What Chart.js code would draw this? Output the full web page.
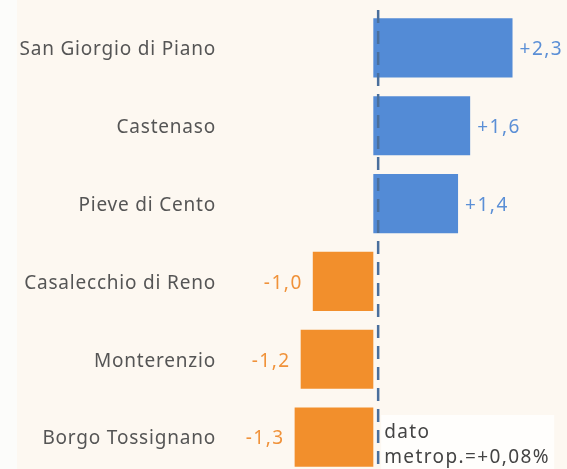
<!DOCTYPE html>
<html>
<head>
<meta charset="utf-8">
<script src="https://cdn.jsdelivr.net/npm/chart.js@4"></script>
<style>
  html, body { margin:0; padding:0; overflow:hidden; background:#fcfcfa; }
  .panel { position:absolute; left:17px; top:0; width:550px; height:469px; background:#fdf8f1; }
  .wrap { position:absolute; left:0; top:0; width:567px; height:478px; }
</style>
</head>
<body>
<div class="panel"></div>
<div class="wrap"><canvas id="chart"></canvas></div>
<script>
  const comuni = ['San Giorgio di Piano','Castenaso','Pieve di Cento','Casalecchio di Reno','Monterenzio','Borgo Tossignano'];
  const variazioni = [2.3, 1.6, 1.4, -1.0, -1.2, -1.3];
  const datoMetrop = 0.08;
  const notaMetrop = ['dato', 'metrop.=+0,08%'];

  const BLUE = '#538bd6', ORANGE = '#f28f2c';
  const FONT = '"Noto Sans", sans-serif';

  function fmt(v) {
    return (v > 0 ? '+' : '') + v.toFixed(1).replace('.', ',');
  }

  // category names, drawn by hand so the axis adds no extra padding
  const catLabels = {
    id: 'catLabels',
    afterDraw(chart) {
      const ctx = chart.ctx;
      const y = chart.scales.y;
      ctx.save();
      ctx.font = '19px ' + FONT;
      ctx.letterSpacing = '0.8px';
      ctx.fillStyle = '#555';
      ctx.textAlign = 'right';
      ctx.textBaseline = 'middle';
      comuni.forEach((c, i) => ctx.fillText(c, y.right - 6, y.getPixelForValue(i) + 2));
      ctx.restore();
    }
  };

  // labels next to each bar
  const valueLabels = {
    id: 'valueLabels',
    afterDatasetsDraw(chart) {
      const ctx = chart.ctx;
      const meta = chart.getDatasetMeta(0);
      ctx.save();
      ctx.font = '19px ' + FONT;
      ctx.letterSpacing = '1.5px';
      ctx.textBaseline = 'middle';
      meta.data.forEach((bar, i) => {
        const v = variazioni[i];
        if (v >= 0) {
          ctx.fillStyle = '#5b8fd6';
          ctx.textAlign = 'left';
          ctx.fillText(fmt(v), bar.x + 7, bar.y + 2);
        } else {
          ctx.fillStyle = '#f0923a';
          ctx.textAlign = 'right';
          ctx.fillText(fmt(v), bar.x - 10, bar.y + 2);
        }
      });
      ctx.restore();
    }
  };

  // dashed reference line + note box
  const refLine = {
    id: 'refLine',
    afterDraw(chart) {
      const ctx = chart.ctx;
      const x = chart.scales.x.getPixelForValue(datoMetrop);
      ctx.save();
      ctx.strokeStyle = '#4a6f9c';
      ctx.lineWidth = 2.5;
      ctx.setLineDash([13, 8]);
      ctx.beginPath();
      ctx.moveTo(x, 10);
      ctx.lineTo(x, chart.height);
      ctx.stroke();
      ctx.setLineDash([]);
      ctx.fillStyle = '#fffefc';
      ctx.fillRect(x + 3, 415, 173, 60);
      ctx.fillStyle = '#444';
      ctx.font = '19px ' + FONT;
      ctx.letterSpacing = '1.4px';
      ctx.textAlign = 'left';
      ctx.textBaseline = 'middle';
      ctx.fillText(notaMetrop[0], x + 6, 433);
      ctx.fillText(notaMetrop[1], x + 6, 458);
      ctx.restore();
    }
  };

  new Chart(document.getElementById('chart').getContext('2d'), {
    type: 'bar',
    data: {
      labels: comuni,
      datasets: [{
        data: variazioni,
        backgroundColor: variazioni.map(v => v >= 0 ? BLUE : ORANGE),
        borderWidth: 0,
        barPercentage: 0.76,
        categoryPercentage: 1
      }]
    },
    options: {
      indexAxis: 'y',
      responsive: true,
      maintainAspectRatio: false,
      animation: false,
      layout: { padding: { top: 9, bottom: 2, left: 0, right: 0 } },
      plugins: { legend: { display: false }, tooltip: { enabled: false } },
      scales: {
        x: { display: false, min: -2.5, max: 3.2 },
        y: {
          grid: { display: false, drawTicks: false },
          border: { display: false },
          ticks: { display: false },
          afterFit(scale) { scale.width = 222; }
        }
      }
    },
    plugins: [valueLabels, catLabels, refLine]
  });
</script>
</body>
</html>
